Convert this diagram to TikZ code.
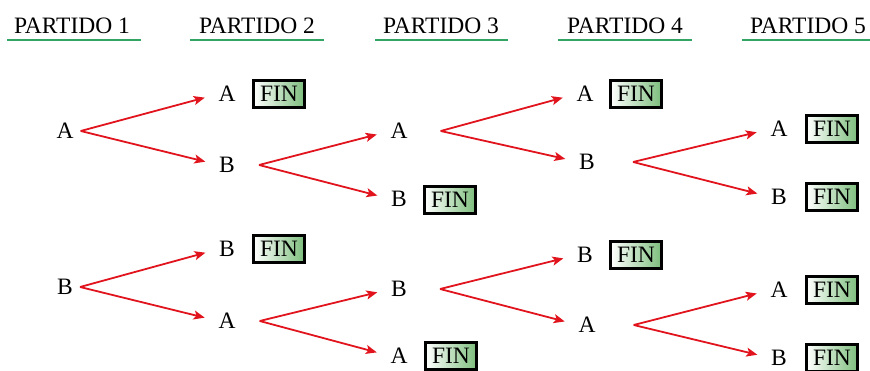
\documentclass[tikz,border=0pt]{standalone}
\usepackage{fontspec}
\setmainfont{Liberation Serif}
\usetikzlibrary{arrows.meta}
\definecolor{arrred}{RGB}{225,20,30}
\definecolor{linegreen}{RGB}{50,165,100}
\definecolor{fingreen}{RGB}{125,190,125}
\begin{document}
\begin{tikzpicture}[x=1pt,y=-1pt,
  every node/.style={font=\fontsize{23.5}{26}\selectfont},
  lett/.style={inner sep=0pt},
  finbox/.style={draw=black,line width=2.2pt,minimum width=51pt,minimum height=27pt,inner sep=0pt,left color=white,right color=fingreen},
  hdr/.style={inner sep=0pt},
  uline/.style={draw=linegreen,line width=1.6pt},
  arr/.style={draw=arrred,line width=1.8pt,-{Stealth[length=11pt,width=9pt,inset=2.5pt]},shorten >=14pt}
]
\useasboundingbox (0,0) rectangle (870,371);
% headers
\node[hdr] (h1) at (72,26) {PARTIDO 1};
\node[hdr] (h2) at (257,26) {PARTIDO 2};
\node[hdr] (h3) at (441,26) {PARTIDO 3};
\node[hdr] (h4) at (625,26) {PARTIDO 4};
\node[hdr] (h5) at (808,26) {PARTIDO 5};
\coordinate (u1a) at (7,40); \coordinate (u1b) at (141,40);
\coordinate (u2a) at (190,40); \coordinate (u2b) at (324,40);
\coordinate (u3a) at (375,40); \coordinate (u3b) at (508,40);
\coordinate (u4a) at (558,40); \coordinate (u4b) at (692,40);
\coordinate (u5a) at (742,40); \coordinate (u5b) at (872,40);
\draw[uline] (u1a) -- (u1b);
\draw[uline] (u2a) -- (u2b);
\draw[uline] (u3a) -- (u3b);
\draw[uline] (u4a) -- (u4b);
\draw[uline] (u5a) -- (u5b);
% level 1
\node[lett] (a1) at (65,131) {A};
\node[lett] (b1) at (65,287) {B};
% level 2
\node[lett] (a2) at (227,94) {A};
\node[finbox] (f2a) at (279,94) {FIN};
\node[lett] (b2) at (227,165) {B};
\node[lett] (b2b) at (227,249) {B};
\node[finbox] (f2b) at (279,249) {FIN};
\node[lett] (a2b) at (227,321) {A};
% level 3
\node[lett] (a3) at (399,131) {A};
\node[lett] (b3) at (399,199) {B};
\node[finbox] (f3a) at (450,200) {FIN};
\node[lett] (b3b) at (399,289) {B};
\node[lett] (a3b) at (399,356) {A};
\node[finbox] (f3b) at (451,356) {FIN};
% level 4
\node[lett] (a4) at (585,94) {A};
\node[finbox] (f4a) at (636,94) {FIN};
\node[lett] (b4) at (587,162) {B};
\node[lett] (b4b) at (585,255) {B};
\node[finbox] (f4b) at (636,255) {FIN};
\node[lett] (a4b) at (587,325) {A};
% level 5
\node[lett] (a5) at (779,129) {A};
\node[finbox] (f5a) at (832,129) {FIN};
\node[lett] (b5) at (779,197) {B};
\node[finbox] (f5b) at (832,197) {FIN};
\node[lett] (a5b) at (779,290) {A};
\node[finbox] (f5c) at (832,290) {FIN};
\node[lett] (b5b) at (779,358) {B};
\node[finbox] (f5d) at (832,358) {FIN};
% arrow start points
\coordinate (sa1) at ([xshift=7pt]a1.east);
\coordinate (sb1) at ([xshift=7pt]b1.east);
\coordinate (sb2) at ([xshift=24pt]b2.east);
\coordinate (sa2b) at ([xshift=24pt]a2b.east);
\coordinate (sa3) at ([xshift=33pt]a3.east);
\coordinate (sb3b) at ([xshift=33pt]b3b.east);
\coordinate (sb4) at ([xshift=38pt]b4.east);
\coordinate (sa4b) at ([xshift=38pt]a4b.east);
% arrows
\draw[arr] (sa1) -- (a2.west);
\draw[arr] (sa1) -- (b2.west);
\draw[arr] (sb1) -- (b2b.west);
\draw[arr] (sb1) -- (a2b.west);
\draw[arr] (sb2) -- (a3.west);
\draw[arr] (sb2) -- (b3.west);
\draw[arr] (sa2b) -- (b3b.west);
\draw[arr] (sa2b) -- (a3b.west);
\draw[arr] (sa3) -- (a4.west);
\draw[arr] (sa3) -- (b4.west);
\draw[arr] (sb3b) -- (b4b.west);
\draw[arr] (sb3b) -- (a4b.west);
\draw[arr] (sb4) -- (a5.west);
\draw[arr] (sb4) -- (b5.west);
\draw[arr] (sa4b) -- (a5b.west);
\draw[arr] (sa4b) -- (b5b.west);
\end{tikzpicture}
\end{document}
